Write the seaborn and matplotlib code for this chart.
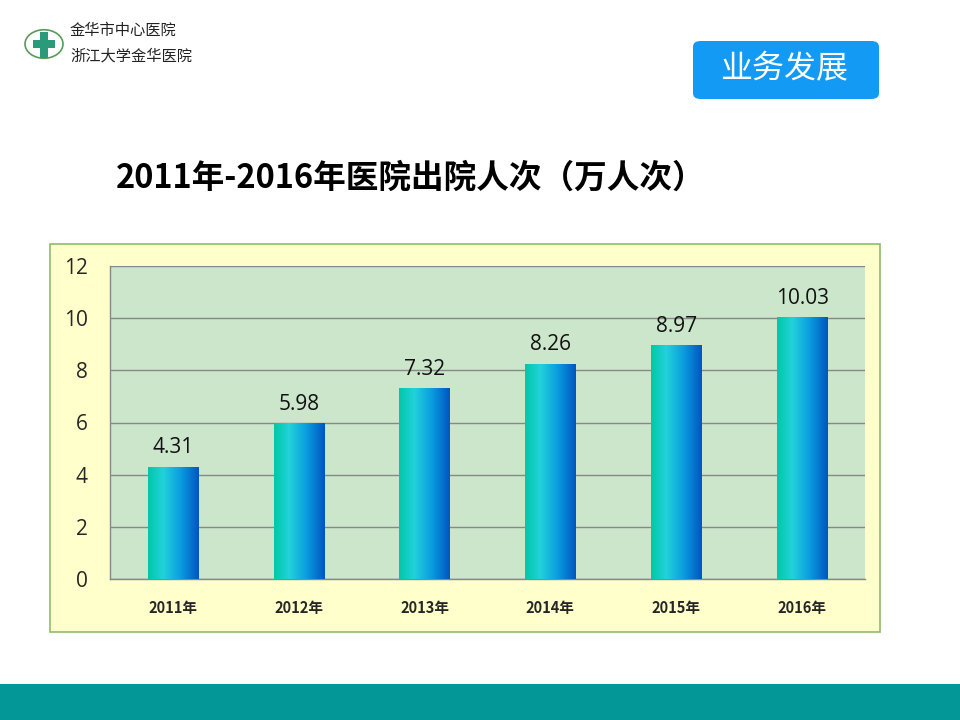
import numpy as np
import pandas as pd
import matplotlib
matplotlib.use('Agg')
import matplotlib.pyplot as plt
import seaborn as sns
from matplotlib.patches import FancyBboxPatch, Rectangle, Circle
from matplotlib.colors import LinearSegmentedColormap

years = ['2011年', '2012年', '2013年', '2014年', '2015年', '2016年']
discharges = [4.31, 5.98, 7.32, 8.26, 8.97, 10.03]
y_ticks = [0, 2, 4, 6, 8, 10, 12]

df = pd.DataFrame({'year': years, 'value': discharges})

sns.set_style('white')
plt.rcParams['font.family'] = ['Noto Sans CJK SC', 'DejaVu Sans']

fig = plt.figure(figsize=(9.6, 7.2), dpi=100)

# chart frame (light yellow box with green border)
fig.patches.append(Rectangle((50 / 960, 1 - 632 / 720), 830 / 960, 388 / 720,
                             transform=fig.transFigure, facecolor='#FFFFCC',
                             edgecolor='#8FBC6F', linewidth=1.2, zorder=-5))

ax = fig.add_axes([110 / 960, 1 - 579 / 720, 755 / 960, 313 / 720])
ax.set_facecolor('#CCE6CC')

sns.barplot(data=df, x='year', y='value', width=0.4, color='#1ab0d0',
            ax=ax, zorder=3)

# horizontal gradient fill for each bar
grad = LinearSegmentedColormap.from_list('bar', [
    (0.0, '#00C8A8'), (0.3, '#22D2DA'), (0.65, '#0A9BE0'), (1.0, '#0055BE')])
g = np.linspace(0, 1, 256).reshape(1, -1)
for p in ax.patches:
    x0, y0 = p.get_x(), p.get_y()
    w, h = p.get_width(), p.get_height()
    p.set_edgecolor('none')
    im = ax.imshow(g, cmap=grad, aspect='auto', extent=[x0, x0 + w, y0, y0 + h],
                   zorder=4, interpolation='bicubic')
    im.set_clip_path(p)
    ax.text(x0 + w / 2, y0 + h + 0.32, f'{h:.2f}', ha='center', va='bottom',
            fontsize=15, color='#111111', family=['Open Sans', 'DejaVu Sans'])

ax.set_xlim(-0.5, 5.5)
ax.set_ylim(0, 12)
ax.set_yticks(y_ticks)
ax.set_yticklabels([str(t) for t in y_ticks], fontsize=15,
                   family=['Open Sans', 'DejaVu Sans'])
ax.yaxis.grid(True, color='#888888', linewidth=1.0, zorder=1)
ax.set_axisbelow(True)
ax.set_xlabel('')
ax.set_ylabel('')
ax.set_xticks(range(len(years)))
ax.set_xticklabels(years, fontsize=10.5, fontweight='bold')
ax.set_xticks(np.arange(-0.5, 6, 1), minor=True)
ax.tick_params(axis='x', which='major', length=0, pad=15)
ax.tick_params(axis='x', which='minor', length=5, color='#888888', direction='out')
ax.tick_params(axis='y', length=6, color='#888888', direction='out', pad=10)
for s in ['top', 'right']:
    ax.spines[s].set_visible(False)
for s in ['left', 'bottom']:
    ax.spines[s].set_color('#888888')
    ax.spines[s].set_linewidth(1.0)

# title
fig.text(411 / 960, 1 - 178 / 720, '2011年-2016年医院出院人次（万人次）',
         fontsize=23.5, fontweight='bold', ha='center', va='center', color='#000000')

# badge
fig.patches.append(FancyBboxPatch((693 / 960, 1 - 99 / 720), 186 / 960, 58 / 720,
                                  boxstyle='round,pad=0,rounding_size=0.008',
                                  transform=fig.transFigure, facecolor='#129AF5',
                                  edgecolor='none'))
fig.text(784 / 960, 1 - 69 / 720, '业务发展', fontsize=23, color='white',
         ha='center', va='center')

# logo
fig.patches.append(Circle((44 / 960, 1 - 44 / 720), 19 / 960,
                          transform=fig.transFigure, facecolor='white',
                          edgecolor='#5a9a5a', linewidth=1.2))
fig.patches.append(Rectangle((33 / 960, 1 - 48 / 720), 22 / 960, 8 / 720,
                             transform=fig.transFigure, facecolor='#2a9a7a',
                             edgecolor='none'))
fig.patches.append(Rectangle((40 / 960, 1 - 58 / 720), 8 / 960, 26 / 720,
                             transform=fig.transFigure, facecolor='#2a9a7a',
                             edgecolor='none'))
fig.text(70 / 960, 1 - 30 / 720, '金华市中心医院', fontsize=11, color='#222222',
         ha='left', va='center')
fig.text(70 / 960, 1 - 56 / 720, '浙江大学金华医院', fontsize=11, color='#222222',
         ha='left', va='center', style='italic')

# bottom band
fig.patches.append(Rectangle((0, 0), 1, 36 / 720, transform=fig.transFigure,
                             facecolor='#039797', edgecolor='none'))

fig.savefig('out.png', dpi=100)
